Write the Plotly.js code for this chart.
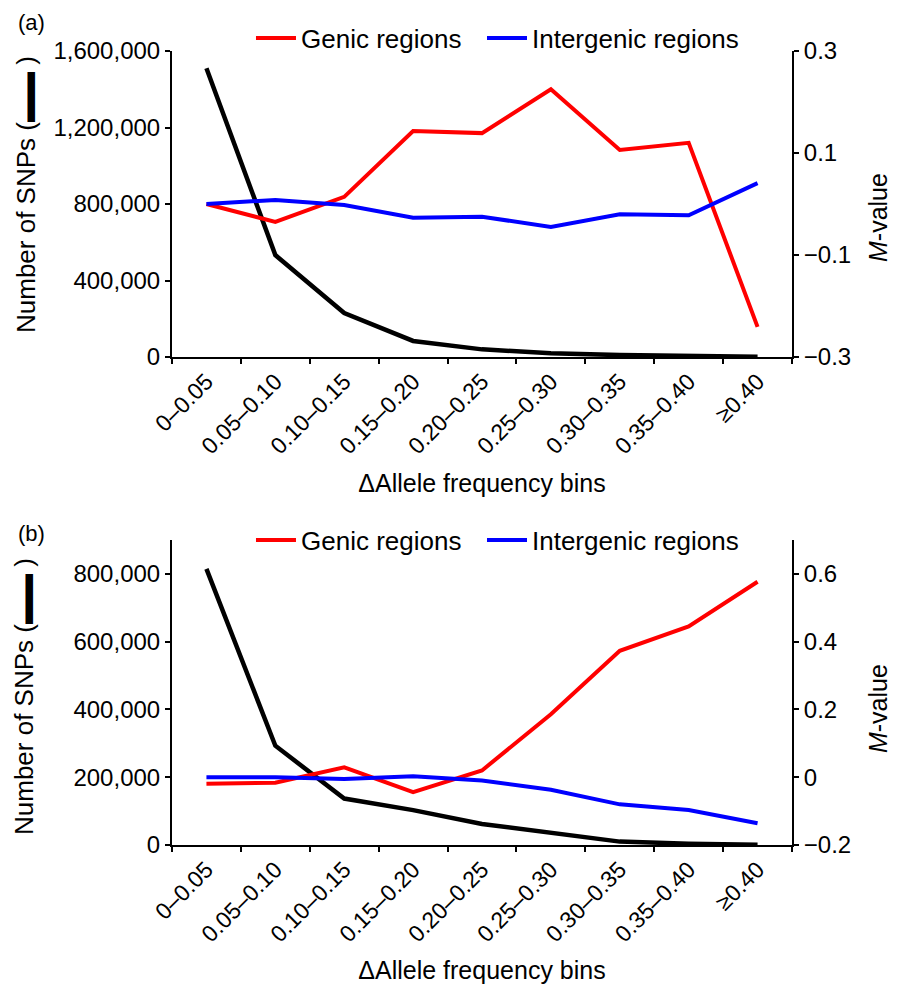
<!DOCTYPE html>
<html><head><meta charset="utf-8">
<script src="https://cdn.plot.ly/plotly-3.0.1.min.js"></script>
<style>html,body{margin:0;padding:0;background:#fff}</style>
</head><body>
<div id="chart" style="width:902px;height:984px"></div>
<script>
const bins = ["0–0.05","0.05–0.10","0.10–0.15","0.15–0.20","0.20–0.25","0.25–0.30","0.30–0.35","0.35–0.40","≥0.40"];
const snpsA = [1510000, 533000, 230000, 84000, 40000, 20000, 10000, 3000, 1000];
const genicA = [0.0, -0.035, 0.014, 0.143, 0.139, 0.225, 0.106, 0.12, -0.241];
const interA = [0.0, 0.008, -0.002, -0.027, -0.025, -0.045, -0.02, -0.022, 0.041];
const snpsB = [815000, 293000, 137000, 103000, 62000, 35000, 10000, 4000, 1000];
const genicB = [-0.019, -0.016, 0.029, -0.044, 0.02, 0.186, 0.373, 0.445, 0.577];
const interB = [0.0, 0.0, -0.005, 0.003, -0.01, -0.037, -0.08, -0.097, -0.136];
const leftTitle = 'Number of SNPs (<span style="font-size:25px">▬▬</span> )';
const rightTitle = '<i>M</i>-value';

const FONT = "Liberation Sans, Arial, Helvetica, sans-serif";
const traces = [
  {x: bins, y: snpsA, xaxis:'x', yaxis:'y', mode:'lines', line:{color:'#000', width:4.5}, showlegend:false, name:'SNPs'},
  {x: bins, y: genicA, xaxis:'x', yaxis:'y2', mode:'lines', line:{color:'#ff0000', width:4}, name:'Genic regions', legend:'legend'},
  {x: bins, y: interA, xaxis:'x', yaxis:'y2', mode:'lines', line:{color:'#0000ff', width:4}, name:'Intergenic regions', legend:'legend2'},
  {x: bins, y: snpsB, xaxis:'x2', yaxis:'y3', mode:'lines', line:{color:'#000', width:4.5}, showlegend:false, name:'SNPs'},
  {x: bins, y: genicB, xaxis:'x2', yaxis:'y4', mode:'lines', line:{color:'#ff0000', width:4}, name:'Genic regions', legend:'legend3'},
  {x: bins, y: interB, xaxis:'x2', yaxis:'y4', mode:'lines', line:{color:'#0000ff', width:4}, name:'Intergenic regions', legend:'legend4'}
];

function xax(anchor){
  return {anchor: anchor, domain:[0,1], type:'category', range:[-0.5,8.5], tickson:'boundaries',
    ticks:'outside', ticklen:5, tickwidth:2, tickcolor:'#000', showline:true, linewidth:2, linecolor:'#000',
    showgrid:false, zeroline:false, tickangle:-45, tickfont:{size:23},
    title:{text:'ΔAllele frequency bins', font:{size:25}, standoff:16}};
}
function yl(anchor, domain, range, dtick){
  return {anchor: anchor, domain: domain, range: range, tickmode:'linear', tick0:0, dtick: dtick, tickformat:',d',
    ticks:'outside', ticklen:5, tickwidth:2, tickcolor:'#000', showline:true, linewidth:2, linecolor:'#000',
    showgrid:false, zeroline:false, tickfont:{size:24}};
}
function yr(over, anchor, range, tick0){
  return {overlaying: over, anchor: anchor, side:'right', range: range, tickmode:'linear', tick0: tick0, dtick:0.2,
    ticks:'outside', ticklen:5, tickwidth:2, tickcolor:'#000', showline:true, linewidth:2, linecolor:'#000',
    showgrid:false, zeroline:false, tickfont:{size:24}};
}
function leg(x, y){
  return {orientation:'h', xanchor:'left', yanchor:'middle', x:x, y:y, font:{size:26},
    bgcolor:'rgba(0,0,0,0)', borderwidth:0, itemwidth:40};
}
function ann(text, x, y, size, angle){
  return {text:text, xref:'paper', yref:'paper', x:x, y:y, xanchor:'center', yanchor:'middle',
    textangle:angle, showarrow:false, font:{size:size}};
}

const layout = {
  width:902, height:984,
  margin:{l:172, r:110, t:51, b:139, pad:0},
  paper_bgcolor:'#fff', plot_bgcolor:'#fff',
  font:{family:FONT, size:24, color:'#000'},
  showlegend:true,
  xaxis: xax('y'),
  yaxis: yl('x', [0.6146,1], [0,1600000], 400000),
  yaxis2: yr('y', 'x', [-0.3,0.3], -0.3),
  xaxis2: xax('y3'),
  yaxis3: yl('x2', [0,0.3841], [0,900000], 200000),
  yaxis4: yr('y3', 'x2', [-0.2,0.7], -0.2),
  legend: leg(0.1274, 1.0164),
  legend2: leg(0.5, 1.0164),
  legend3: leg(0.1274, 0.384),
  legend4: leg(0.5, 0.384),
  annotations:[
    ann('(a)', -0.227, 1.0365, 22, 0),
    ann('(b)', -0.227, 0.3917, 22, 0),
    ann(leftTitle, -0.2355, 0.8199, 26, -90),
    ann(leftTitle, -0.2387, 0.1864, 26, -90),
    ann(rightTitle, 1.1387, 0.7909, 25, -90),
    ann(rightTitle, 1.1387, 0.1725, 25, -90)
  ]
};
Plotly.newPlot('chart', traces, layout, {staticPlot:true, displayModeBar:false});
</script>
</body></html>
